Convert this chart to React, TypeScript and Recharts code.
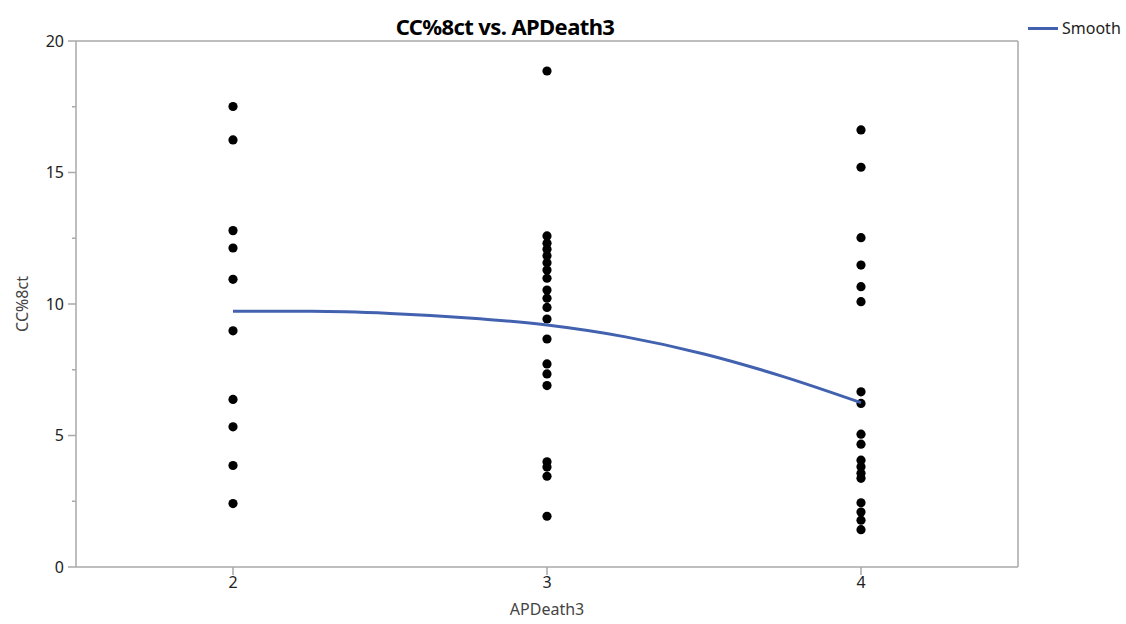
import { ScatterChart, Scatter, XAxis, YAxis, ReferenceLine } from "recharts";

// CC%8ct readings grouped by APDeath3 level
const group2 = [17.51, 16.24, 12.79, 12.13, 10.94, 8.98, 6.37, 5.33, 3.86, 2.41];
const group3 = [
  18.86, 12.59, 12.31, 12.08, 11.83, 11.57, 11.29, 10.98, 10.53, 10.22, 9.87, 9.43, 8.67, 7.72,
  7.34, 6.9, 4.0, 3.8, 3.45, 1.93,
];
const group4 = [
  16.62, 15.2, 12.52, 11.48, 10.66, 10.09, 6.66, 6.22, 5.05, 4.67, 4.06, 3.81, 3.56, 3.37, 2.44,
  2.09, 1.78, 1.42,
];

// smoother fit
const smoothX = [2, 2.25, 2.5, 2.75, 3, 3.25, 3.5, 3.75, 4];
const smoothY = [9.72, 9.72, 9.64, 9.47, 9.2, 8.75, 8.1, 7.25, 6.25];

const xDomain = [1.5, 4.5];
const yDomain = [0, 20];
const xTicks = [2, 3, 4];
const yTicks = [0, 2.5, 5, 7.5, 10, 12.5, 15, 17.5, 20];

const points = [
  ...group2.map((y) => ({ x: 2, y })),
  ...group3.map((y) => ({ x: 3, y })),
  ...group4.map((y) => ({ x: 4, y })),
];
const smooth = smoothX.map((x, i) => ({ x, y: smoothY[i] }));

const FONT = "'Noto Sans', 'Open Sans', sans-serif";
const AXIS = "#a9a9a9";

const YTick = (props: any) => {
  const { x, y, payload } = props;
  const major = payload.value % 5 === 0;
  return (
    <g>
      <line x1={x - (major ? 8 : 4)} x2={x} y1={y} y2={y} stroke={AXIS} strokeWidth={1.5} />
      {major && (
        <text x={x - 12} y={y} dy="0.35em" textAnchor="end" fontSize={16} fill="#222" fontFamily={FONT}>
          {payload.value}
        </text>
      )}
    </g>
  );
};

const Dot = (props: any) => <circle cx={props.cx} cy={props.cy} r={4.6} fill="#000" />;

export default function App() {
  return (
    <div style={{ position: "absolute", left: 0, top: 0, width: 1126, height: 624, background: "#fff" }}>
      <div
        style={{
          position: "absolute",
          left: 300,
          width: 410,
          top: 11,
          textAlign: "center",
          fontFamily: FONT,
          fontWeight: 700,
          fontSize: 22,
          color: "#000",
          letterSpacing: -0.6,
        }}
      >
        CC%8ct vs. APDeath3
      </div>
      <div style={{ position: "absolute", left: 1028, top: 17, display: "flex", alignItems: "center", fontFamily: FONT, fontSize: 16, color: "#222" }}>
        <span style={{ display: "inline-block", width: 30, height: 3, background: "#4262b0", marginRight: 4 }} />
        Smooth
      </div>
      <ScatterChart width={1126} height={624} margin={{ top: 41, right: 108, bottom: 0, left: 0 }}>
        <XAxis
          type="number"
          dataKey="x"
          domain={xDomain}
          ticks={xTicks}
          height={57}
          stroke={AXIS}
          strokeWidth={1.5}
          tickSize={8}
          tick={{ fontSize: 16, fill: "#222", fontFamily: FONT }}
          label={{ value: "APDeath3", position: "insideBottom", offset: 9, fontSize: 16, fill: "#444", fontFamily: FONT }}
        />
        <YAxis
          type="number"
          dataKey="y"
          domain={yDomain}
          ticks={yTicks}
          width={76}
          stroke={AXIS}
          strokeWidth={1.5}
          tickLine={false}
          tickSize={0}
          tickMargin={0}
          tick={<YTick />}
          interval={0}
          label={{
            value: "CC%8ct",
            angle: -90,
            position: "insideLeft",
            offset: 22,
            fontSize: 16,
            fill: "#444",
            fontFamily: FONT,
            style: { textAnchor: "middle" },
          }}
        />
        {/* plot frame: top and right edges */}
        <ReferenceLine y={yDomain[1]} stroke={AXIS} strokeWidth={1.5} />
        <ReferenceLine x={xDomain[1]} stroke={AXIS} strokeWidth={1.5} />
        <Scatter data={points} shape={<Dot />} isAnimationActive={false} />
        <Scatter
          data={smooth}
          shape={() => null}
          line={{ stroke: "#4262b0", strokeWidth: 3 }}
          lineJointType="monotone"
          isAnimationActive={false}
        />
      </ScatterChart>
    </div>
  );
}
